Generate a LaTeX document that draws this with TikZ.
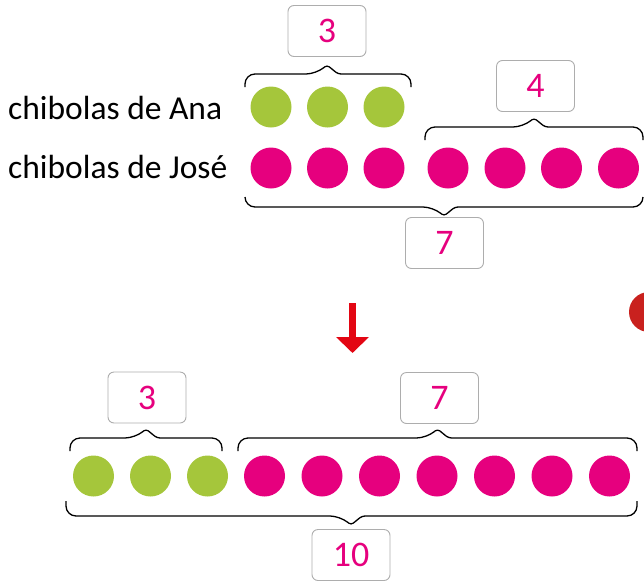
\documentclass[tikz,border=0pt]{standalone}
\usepackage{fontspec}
\setmainfont{Carlito}
\usepackage{xcolor}
\usepackage{tikz}
\usetikzlibrary{arrows.meta,positioning}

\definecolor{anagreen}{HTML}{A5C63B}
\definecolor{josemag}{HTML}{E6007E}
\definecolor{arrowred}{HTML}{E30613}
\definecolor{dotred}{HTML}{C9211E}

\begin{document}
\begin{tikzpicture}[x=1pt, y=-1pt,
  ana/.style={circle, fill=anagreen, minimum size=41pt, inner sep=0pt},
  jose/.style={circle, fill=josemag, minimum size=41pt, inner sep=0pt},
  countbox/.style={draw=black!32, line width=0.9pt, rounded corners=6pt, fill=white, minimum width=78pt, minimum height=51pt, text=josemag, font=\fontsize{36}{40}\selectfont},
  rowlabel/.style={anchor=base west, inner sep=0pt, font=\fontsize{33.5}{38}\selectfont},
  brc/.style={line width=1.3pt, line join=round},
  bigarrow/.style={line width=7pt, arrowred, -{Triangle[width=32pt,length=16pt]}}
]
\useasboundingbox (0,0) rectangle (644,581);

% antes
\node[rowlabel] (lblana) at (8,119) {chibolas de Ana};
\node[rowlabel] (lbljose) at (8,178) {chibolas de José};
\node[ana] (a1) at (271,107) {};
\node[ana] (a2) at (327.5,107) {};
\node[ana] (a3) at (384,107) {};
\node[jose] (j1) at (271,168) {};
\node[jose] (j2) at (327.5,168) {};
\node[jose] (j3) at (384,168) {};
\node[jose] (j4) at (448,168) {};
\node[jose] (j5) at (505,168) {};
\node[jose] (j6) at (561.5,168) {};
\node[jose] (j7) at (618.5,168) {};
\node[countbox] (ntres) at (327,31) {3};
\node[countbox] (ncuatro) at (535.5,86) {4};
\node[countbox] (nsiete) at (444.5,243) {7};
\draw[brc] (245,87) [rounded corners=10pt] |- (316,74) [rounded corners=3pt] -- (327,65) -- (338,74) [rounded corners=10pt] -| (411,87);
\draw[brc] (425,140) [rounded corners=10pt] |- (523,127) [rounded corners=3pt] -- (534,118) -- (545,127) [rounded corners=10pt] -| (643,140);
\draw[brc] (245,197) [rounded corners=10pt] |- (433,207) [rounded corners=3pt] -- (444,216) -- (455,207) [rounded corners=10pt] -| (643,197);

% flecha
\coordinate (arrfrom) at (352.5,303);
\coordinate (arrto) at (352.5,353);
\draw[bigarrow] (arrfrom) -- (arrto);
\node[circle, fill=dotred, minimum size=40pt, inner sep=0pt] (reddot) at (649,312) {};

% despues
\node[ana] (b1) at (93.5,476) {};
\node[ana] (b2) at (150.5,476) {};
\node[ana] (b3) at (207.5,476) {};
\node[jose] (b4) at (264.5,476) {};
\node[jose] (b5) at (322,476) {};
\node[jose] (b6) at (379.5,476) {};
\node[jose] (b7) at (437,476) {};
\node[jose] (b8) at (494.5,476) {};
\node[jose] (b9) at (552,476) {};
\node[jose] (b10) at (609.5,476) {};
\node[countbox] (mtres) at (147,397.5) {3};
\node[countbox] (msiete) at (439.5,398) {7};
\node[countbox] (mdiez) at (351,555) {10};
\draw[brc] (70,451) [rounded corners=10pt] |- (135,438) [rounded corners=3pt] -- (146,429) -- (157,438) [rounded corners=10pt] -| (222,451);
\draw[brc] (238,451) [rounded corners=10pt] |- (426.5,438) [rounded corners=3pt] -- (437.5,429) -- (448.5,438) [rounded corners=10pt] -| (637,451);
\draw[brc] (66,501) [rounded corners=10pt] |- (340,516) [rounded corners=3pt] -- (351,525) -- (362,516) [rounded corners=10pt] -| (637,501);
\end{tikzpicture}
\end{document}
